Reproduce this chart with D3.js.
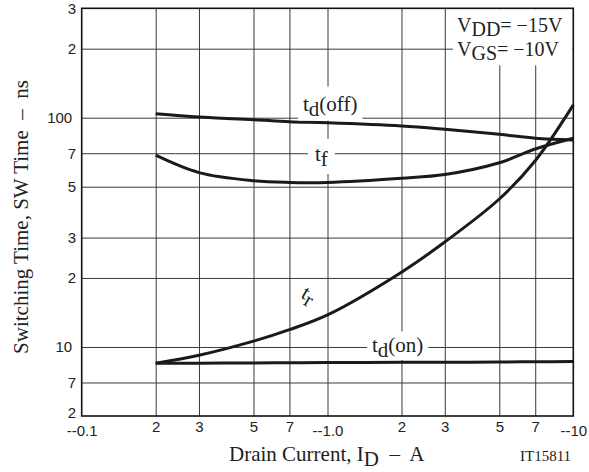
<!DOCTYPE html>
<html>
<head>
<meta charset="utf-8">
<script src="https://cdn.jsdelivr.net/npm/d3@7"></script>
<style>
  html, body { margin: 0; padding: 0; background: #fff; }
  svg { display: block; }
  .tick-label { font-family: "Liberation Sans", Arial, sans-serif; font-size: 15px; fill: #222; }
  .serif { font-family: "Liberation Serif", "Times New Roman", serif; fill: #222; white-space: pre; }
</style>
</head>
<body>
<svg id="chart" width="589" height="472"></svg>
<script>
// Drain current (A, magnitude) at which each curve is read
const currentA = [0.2, 0.3, 0.5, 0.7, 1.0, 2.0, 3.0, 5.0, 7.0, 10];

// Switching times in ns
const tdOff = [104, 100.7, 98, 96, 95, 92, 89, 84.7, 81.4, 80];
const tFall = [68.6, 57.6, 53.1, 52.2, 52.2, 54.4, 56.5, 63.6, 73, 81.3];
const tRise = [8.5, 9.2, 10.6, 11.9, 13.8, 21.2, 28.7, 44.2, 64.9, 113.7];
const tdOn  = [8.5, 8.5, 8.52, 8.53, 8.55, 8.57, 8.58, 8.6, 8.62, 8.65];

// Axis ticks and their printed labels
const xTicks = [0.1, 0.2, 0.3, 0.5, 0.7, 1, 2, 3, 5, 7, 10];
const xTickLabels = ["--0.1", "2", "3", "5", "7", "--1.0", "2", "3", "5", "7", "--10"];
const yTicks = [5, 7, 10, 20, 30, 50, 70, 100, 200, 300];
const yTickLabels = ["2", "7", "10", "2", "3", "5", "7", "100", "2", "3"];

const svg = d3.select("#chart");
svg.append("rect").attr("width", 589).attr("height", 472).attr("fill", "#fff");

const plotL = 81.7, plotR = 573.3, plotT = 8.3, plotB = 416;
const x = d3.scaleLog().domain([0.1, 10]).range([plotL, plotR]);
const y = d3.scaleLog().domain([5, 300]).range([plotB, plotT]);

// Grid lines (interior ticks only)
const grid = svg.append("g");
grid.append("g")
  .attr("transform", `translate(0,${plotB})`)
  .call(d3.axisBottom(x).tickValues(xTicks.slice(1, -1)).tickSize(-(plotB - plotT)).tickFormat(""))
  .call(g => g.select(".domain").remove())
  .call(g => g.selectAll("line").attr("stroke", "#3a3a3a").attr("stroke-width", 1));
grid.append("g")
  .attr("transform", `translate(${plotL},0)`)
  .call(d3.axisLeft(y).tickValues(yTicks.slice(1, -1)).tickSize(-(plotR - plotL)).tickFormat(""))
  .call(g => g.select(".domain").remove())
  .call(g => g.selectAll("line").attr("stroke", "#3a3a3a").attr("stroke-width", 1));

// Tick labels
svg.append("g")
  .attr("transform", `translate(0,${plotB})`)
  .call(d3.axisBottom(x).tickValues(xTicks).tickSize(0).tickPadding(5.5)
    .tickFormat((d, i) => xTickLabels[i]))
  .call(g => g.select(".domain").remove())
  .call(g => g.selectAll("text").attr("class", "tick-label")
    .attr("y", (d, i) => xTickLabels[i].startsWith("--") ? 9.5 : 5.5));

svg.append("g")
  .attr("transform", `translate(${plotL},0)`)
  .call(d3.axisLeft(y).tickValues(yTicks).tickSize(0).tickPadding(5.5)
    .tickFormat((d, i) => yTickLabels[i]))
  .call(g => g.select(".domain").remove())
  .call(g => g.selectAll("text").attr("class", "tick-label")
    .attr("dx", (d, i) => yTickLabels[i].length > 1 ? -4 : 0)
    .attr("y", (d, i) => i === 0 ? -3.5 : 0));

// Curve labels sit on white patches that break the grid
function label(parts, tx, ty, opts = {}) {
  const g = svg.append("g").attr("transform", `translate(${tx},${ty}) rotate(${opts.rotate || 0})`);
  const bg = g.append("rect").attr("fill", "#fff");
  const t = g.append("text").attr("class", "serif").attr("font-size", opts.size || 21)
    .attr("text-anchor", opts.anchor || "start");
  let shift = 0;
  parts.forEach(p => {
    const want = p.sub ? (opts.subDrop || 5) : 0;
    t.append("tspan").attr("dy", want - shift).text(p.t);
    shift = want;
  });
  if (opts.pad) {
    const b = t.node().getBBox();
    const [px, pyTop, pyBot] = opts.pad;
    bg.attr("x", b.x - px).attr("y", b.y - pyTop)
      .attr("width", b.width + 2 * px).attr("height", b.height + pyTop + pyBot);
  } else {
    bg.remove();
  }
  return g;
}

// Legend box with test conditions
svg.append("rect").attr("x", 453).attr("y", plotT + 1).attr("width", plotR - 453 - 1).attr("height", 56).attr("fill", "#fff");
label([{ t: "V" }, { t: "DD", sub: true }, { t: "= \u221215V" }], 457, 31.7, { size: 20, subDrop: 4 });
label([{ t: "V" }, { t: "GS", sub: true }, { t: "= \u221210V" }], 457, 55.5, { size: 20, subDrop: 4 });

// Curves
const line = d3.line().x(d => x(d[0])).y(d => y(d[1])).curve(d3.curveCatmullRom.alpha(0.5));
[tdOff, tFall, tRise, tdOn].forEach(series => {
  svg.append("path")
    .datum(currentA.map((a, i) => [a, series[i]]))
    .attr("d", line)
    .attr("fill", "none")
    .attr("stroke", "#1a1a1a")
    .attr("stroke-width", 3)
    .attr("stroke-linecap", "butt");
});

label([{ t: "t" }, { t: "d", sub: true }, { t: "(off)" }], 303, 110.5, { pad: [5, 5, 0] });
label([{ t: "t" }, { t: "f", sub: true }], 315, 161, { pad: [7, 3, 3] });
label([{ t: "t" }, { t: "d", sub: true }, { t: "(on)" }], 372, 351.5, { pad: [5, 1, -1.5] });
label([{ t: "t" }, { t: "r", sub: true }], 300, 297, { rotate: 30 });

// Plot frame
svg.append("rect")
  .attr("x", plotL).attr("y", plotT).attr("width", plotR - plotL).attr("height", plotB - plotT)
  .attr("fill", "none").attr("stroke", "#111").attr("stroke-width", 1.6);

// Axis titles and figure code
const xt = svg.append("text").attr("class", "serif").attr("font-size", 21)
  .attr("x", 229).attr("y", 461);
xt.append("tspan").text("Drain Current, I");
xt.append("tspan").attr("dy", 5).text("D");
xt.append("tspan").attr("dy", -5).text("  \u2013  A");

svg.append("text").attr("class", "serif").attr("font-size", 15)
  .attr("x", 520).attr("y", 461).text("IT15811");

svg.append("text").attr("class", "serif").attr("font-size", 21)
  .attr("text-anchor", "middle")
  .attr("transform", "translate(28,217) rotate(-90)")
  .text("Switching Time, SW Time  \u2013  ns");
</script>
</body>
</html>
